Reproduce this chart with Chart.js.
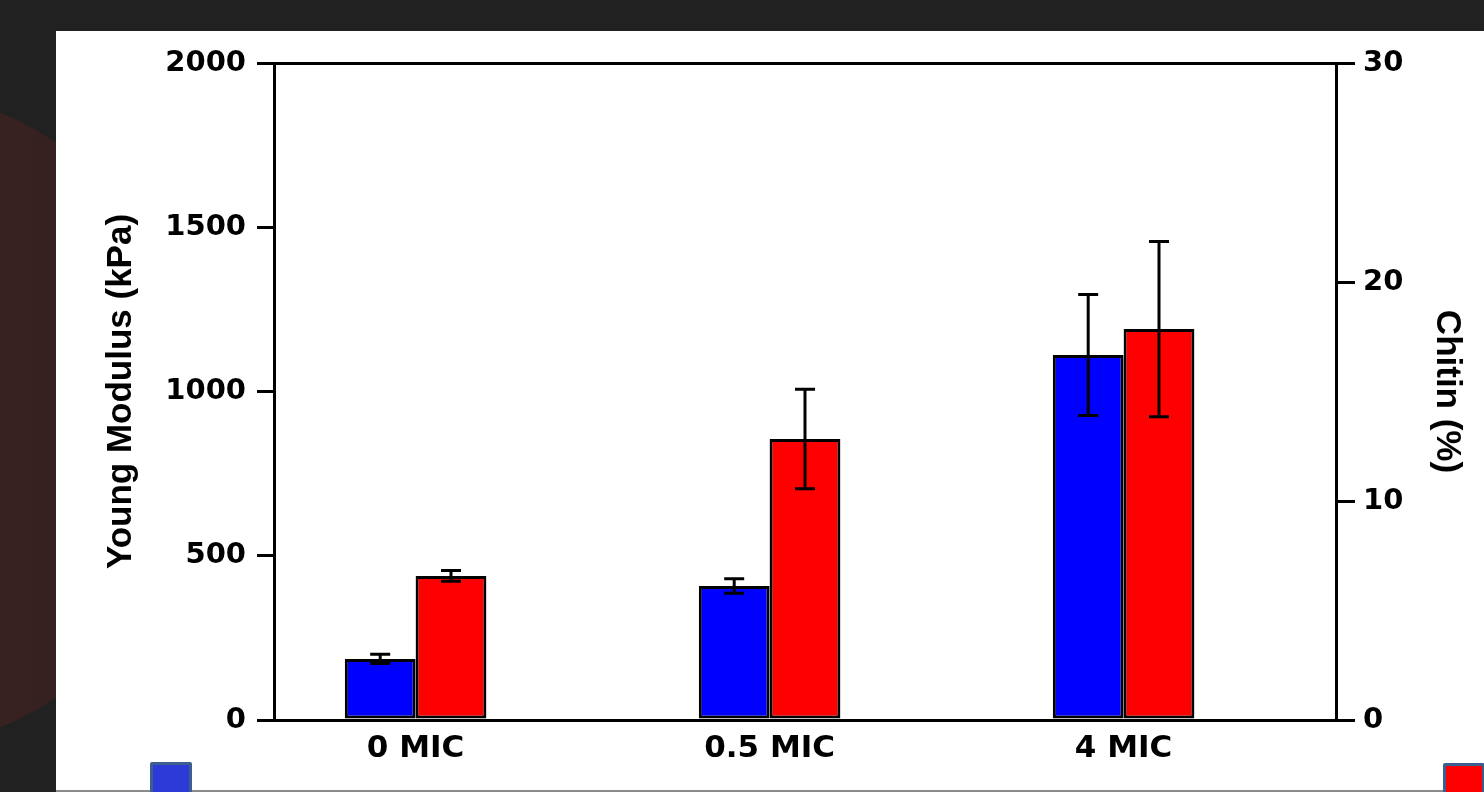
<!DOCTYPE html>
<html>
<head>
<meta charset="utf-8">
<script src="https://cdn.jsdelivr.net/npm/chart.js@4/dist/chart.umd.min.js"></script>
<style>
  html,body{margin:0;padding:0;width:1484px;height:792px;overflow:hidden;background:#212121;}
  .blob{position:absolute;left:-461px;top:87px;width:666px;height:666px;border-radius:50%;
        background:linear-gradient(to right, #2e1c1c 0%, #3b2323 60%, #2f1d1d 100%);}
  .panel{position:absolute;left:56px;top:31px;width:1428px;height:759px;background:#fff;border-bottom:2px solid #8a8a8a;}
  .panel canvas{position:absolute;left:0;top:0;}
  .sq{position:absolute;width:36px;height:36px;border:3px solid #3d5f8f;border-radius:2px;}
</style>
</head>
<body>
<div class="blob"></div>
<div class="panel"><canvas id="c" width="1428" height="759"></canvas></div>
<div class="sq" style="left:150px;top:762px;background:#2d3ad8;"></div>
<div class="sq" style="left:1443px;top:763px;background:#ff0000;"></div>
<script>
(function(){
  // ---- data
  const categories = ['0 MIC','0.5 MIC','4 MIC'];
  const youngModulus = [186, 408, 1111];     // kPa, left axis (blue)
  const youngErr     = [14, 22, 184];
  const chitin       = [6.58, 12.83, 17.85]; // %, right axis (red)
  const chitinErr    = [0.25, 2.27, 4.0];
  const leftTicks  = [0, 500, 1000, 1500, 2000];
  const rightTicks = [0, 10, 20, 30];

  const tickFont = {family:'DejaVu Sans', weight:'bold', size:29};
  const titleFont = {family:'Liberation Sans', weight:'bold', size:35};

  // error bars drawn through each dataset's own y scale
  const errorBars = {
    id:'errorBars',
    afterDatasetsDraw(chart){
      const ctx = chart.ctx;
      const errs = [youngErr, chitinErr];
      chart.data.datasets.forEach((ds, di)=>{
        const meta = chart.getDatasetMeta(di);
        const ys = chart.scales[ds.yAxisID];
        meta.data.forEach((bar, i)=>{
          const v = ds.data[i].y, e = errs[di][i];
          const y1 = ys.getPixelForValue(v + e), y2 = ys.getPixelForValue(v - e);
          ctx.save();
          ctx.strokeStyle = '#000'; ctx.lineWidth = 3;
          ctx.beginPath();
          ctx.moveTo(bar.x, y1); ctx.lineTo(bar.x, y2);
          ctx.moveTo(bar.x-10, y1); ctx.lineTo(bar.x+10, y1);
          ctx.moveTo(bar.x-10, y2); ctx.lineTo(bar.x+10, y2);
          ctx.stroke();
          ctx.restore();
        });
      });
    }
  };

  new Chart(document.getElementById('c'), {
    type:'bar',
    data:{
      datasets:[
        { label:'Young Modulus (kPa)', yAxisID:'y', xAxisID:'x',
          data: youngModulus.map((v,i)=>({x:i, y:v})),
          backgroundColor:'#0000ff', borderColor:'#000', borderWidth:3, borderSkipped:false },
        { label:'Chitin (%)', yAxisID:'y1', xAxisID:'x',
          data: chitin.map((v,i)=>({x:i, y:v})),
          backgroundColor:'#ff0000', borderColor:'#000', borderWidth:3, borderSkipped:false }
      ]
    },
    options:{
      responsive:false, animation:false,
      categoryPercentage:0.4, barPercentage:1.0,
      layout:{ padding:{top:32, left:0, right:0, bottom:0} },
      plugins:{ legend:{display:false}, tooltip:{enabled:false} },
      scales:{
        x:{
          type:'linear', min:-0.4, max:2.6, offset:false, bounds:'ticks',
          afterBuildTicks: s => { s.ticks = categories.map((_,i)=>({value:i})); },
          afterFit: s => { s.height = 70; },
          grid:{display:false, drawTicks:false, offset:false}, border:{display:false},
          ticks:{ font:{family:'DejaVu Sans', weight:'bold', size:31}, color:'#000', padding:10,
                  callback: v => categories[v] }
        },
        y:{
          position:'left', min:0, max:2000,
          afterBuildTicks: s => { s.ticks = leftTicks.map(v=>({value:v})); },
          afterFit: s => { s.width = 218; },
          grid:{ drawOnChartArea:true, lineWidth:3, tickLength:17, tickColor:'#000',
                 color: c => (c.tick && (c.tick.value===0 || c.tick.value===2000)) ? '#000' : 'rgba(0,0,0,0)' },
          border:{display:true, color:'#000', width:3},
          ticks:{ font:tickFont, color:'#000', padding:11, callback: v => String(v) },
          title:{ display:true, text:'Young Modulus (kPa)', font:titleFont, color:'#000', padding:{top:44, bottom:0} }
        },
        y1:{
          position:'right', min:0, max:30,
          afterBuildTicks: s => { s.ticks = rightTicks.map(v=>({value:v})); },
          afterFit: s => { s.width = 148; },
          grid:{ drawOnChartArea:false, lineWidth:3, tickLength:19, tickColor:'#000', color:'#000' },
          border:{display:true, color:'#000', width:3},
          ticks:{ font:tickFont, color:'#000', padding:8, callback: v => String(v) },
          title:{ display:true, text:'Chitin (%)', font:titleFont, color:'#000', padding:{top:16, bottom:0} }
        }
      }
    },
    plugins:[errorBars]
  });
})();
</script>
</body>
</html>
